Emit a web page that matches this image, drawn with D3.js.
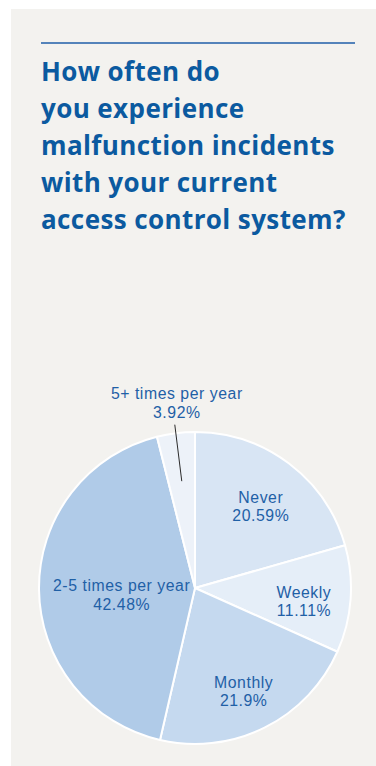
<!DOCTYPE html>
<html>
<head>
<meta charset="utf-8">
<script src="https://cdn.jsdelivr.net/npm/d3@7"></script>
<style>
  html, body { margin: 0; padding: 0; background: #ffffff; }
  svg { display: block; }
</style>
</head>
<body>
<svg id="chart" width="376" height="766"></svg>
<script>
// Survey answers, in clockwise order from 12 o'clock
const categories = ["Never", "Weekly", "Monthly", "2-5 times per year", "5+ times per year"];
const shares = [20.59, 11.11, 21.9, 42.48, 3.92];
const shareLabels = ["20.59%", "11.11%", "21.9%", "42.48%", "3.92%"];
const sliceColors = ["#d8e5f4", "#e5eef8", "#c5d9ef", "#b0cbe8", "#edf2f9"];
const titleLines = [
  "How often do",
  "you experience",
  "malfunction incidents",
  "with your current",
  "access control system?"
];

const W = 376, H = 766;
const svg = d3.select("#chart");
const blue = "#0b5aa0";
const labelBlue = "#1f60a6";

// Panel
svg.append("rect").attr("x", 11).attr("y", 9).attr("width", W - 11).attr("height", H - 9)
  .attr("fill", "#f3f2ef");

// Rule above the heading
svg.append("line").attr("x1", 41).attr("x2", 355).attr("y1", 43).attr("y2", 43)
  .attr("stroke", "#1f5ea8").attr("stroke-width", 1.4);

// Heading
svg.append("g").selectAll("text").data(titleLines).join("text")
  .attr("x", 41)
  .attr("y", (d, i) => 81 + i * 37)
  .attr("fill", blue)
  .attr("font-family", "'Open Sans', sans-serif")
  .attr("font-weight", 700)
  .attr("font-size", 26)
  .attr("letter-spacing", 0.4)
  .text(d => d);

// Pie
const cx = 195, cy = 588, R = 156;
const data = categories.map((c, i) => ({ name: c, value: shares[i], label: shareLabels[i], color: sliceColors[i] }));
const pie = d3.pie().value(d => d.value).sort(null);
const arcs = pie(data);
const arc = d3.arc().innerRadius(0).outerRadius(R);

const g = svg.append("g").attr("transform", `translate(${cx},${cy})`);
g.selectAll("path").data(arcs).join("path")
  .attr("d", arc)
  .attr("fill", d => d.data.color)
  .attr("stroke", "#ffffff")
  .attr("stroke-width", 2)
  .attr("stroke-linejoin", "round");

// Labels: inside for larger slices, outside with a leader for small ones
const fontSize = 15.8;
const lineGap = 18.5;
const labelArc = d3.arc().innerRadius(R * 0.7).outerRadius(R * 0.7);
const pad = 14;

const labels = g.append("g")
  .attr("font-family", "'Liberation Sans', Arial, sans-serif")
  .attr("font-size", fontSize)
  .attr("letter-spacing", 0.55)
  .attr("fill", labelBlue)
  .attr("text-anchor", "middle");

function twoLine(x, y, a) {
  const name = labels.append("text").attr("x", x).attr("y", y).text(a.data.name);
  const val = labels.append("text").attr("x", x).attr("y", y + lineGap).text(a.data.label);
  return [name, val];
}

arcs.forEach(a => {
  const pct = a.data.value;
  const mid = (a.startAngle + a.endAngle) / 2;
  if (pct >= 5) {
    const [x, y] = labelArc.centroid(a);
    const pair = twoLine(x, y + 2, a);
    // keep the wider line inside the circle
    let shift = 0;
    pair.forEach(t => {
      const bb = t.node().getBBox();
      const yc = bb.y + bb.height / 2;
      const halfChord = Math.sqrt(Math.max(0, R * R - yc * yc)) - pad;
      if (bb.x < -halfChord) shift = Math.max(shift, -halfChord - bb.x);
      if (bb.x + bb.width > halfChord) shift = Math.min(shift, halfChord - (bb.x + bb.width));
    });
    if (shift) pair.forEach(t => t.attr("x", x + shift));
  } else {
    const p0 = [Math.sin(mid) * R * 0.69, -Math.cos(mid) * R * 0.69];
    const p1 = [Math.sin(mid) * R * 1.055, -Math.cos(mid) * R * 1.055];
    g.append("line")
      .attr("x1", p0[0]).attr("y1", p0[1])
      .attr("x2", p1[0]).attr("y2", p1[1])
      .attr("stroke", "#2b2b2b").attr("stroke-width", 1);
    twoLine(p1[0] + 2, p1[1] - 7 - lineGap, a);
  }
});
</script>
</body>
</html>
